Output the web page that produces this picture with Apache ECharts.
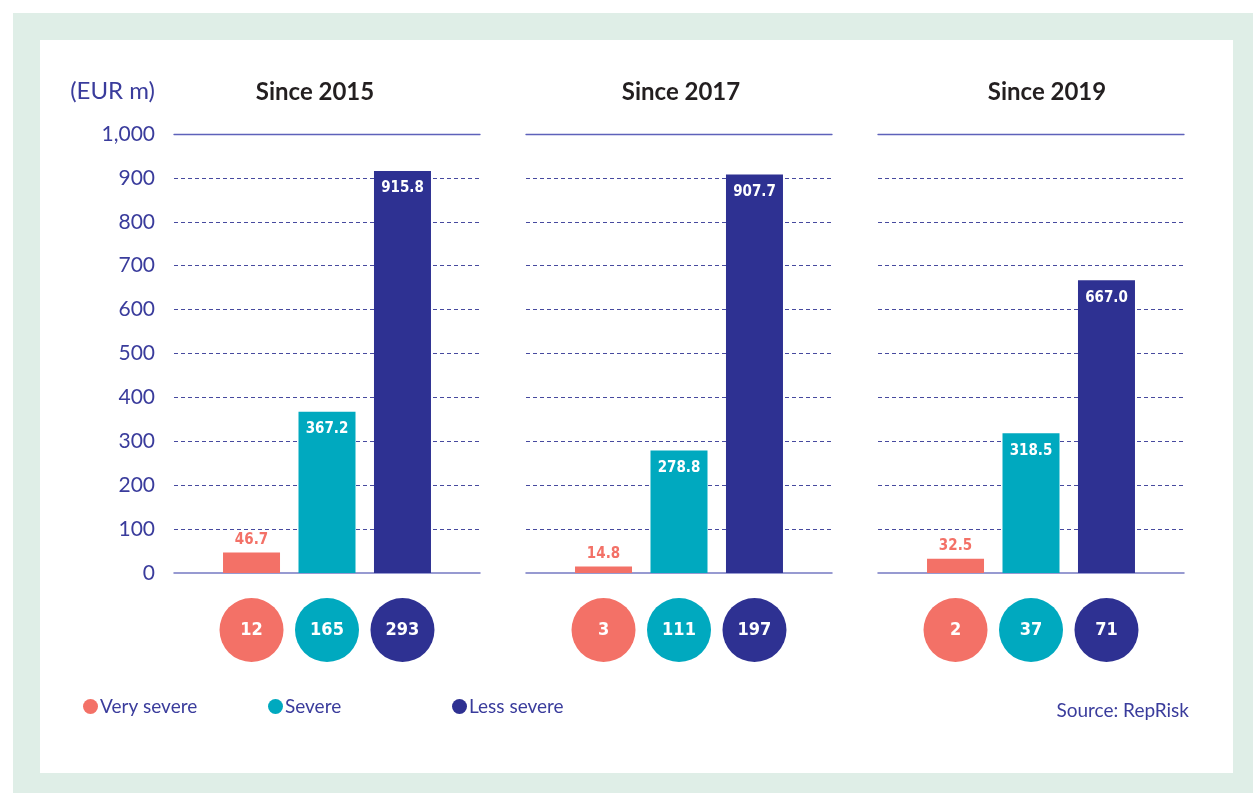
<!DOCTYPE html>
<html>
<head>
<meta charset="utf-8">
<script src="https://cdn.jsdelivr.net/npm/echarts@6/dist/echarts.min.js"></script>
<style>
  body { margin: 0; background: #ffffff; }
  #frame { position: absolute; left: 13px; top: 13px; width: 1240px; height: 780px; background: #dfeee7; }
  #panel { position: absolute; left: 40px; top: 40px; width: 1193px; height: 733px; background: #ffffff; }
  #chart { position: absolute; left: 0; top: 0; width: 1253px; height: 793px; }
</style>
</head>
<body>
<div id="frame"></div>
<div id="panel"></div>
<div id="chart"></div>
<script>
var periods = ["Since 2015", "Since 2017", "Since 2019"];
var severities = ["Very severe", "Severe", "Less severe"];
var colors = ["#f37167", "#00a9bf", "#2e3192"];
// EUR m per severity, one array per period
var amounts = [
  [46.7, 367.2, 915.8],
  [14.8, 278.8, 907.7],
  [32.5, 318.5, 667.0],
];
// number of incidents shown in the circles
var counts = [
  [12, 165, 293],
  [3, 111, 197],
  [2, 37, 71],
];
var yTicks = [0, 100, 200, 300, 400, 500, 600, 700, 800, 900, 1000];

var purple = "#3a3c9c";
var condensed = "'DejaVu Sans Condensed', 'Roboto Condensed', 'Liberation Sans Narrow', Roboto, sans-serif";
var gridLefts = [174, 526, 878];
var gridWidth = 306;
var titleCenters = [315, 681, 1047];

var chart = echarts.init(document.getElementById("chart"), null, { renderer: "canvas" });

var grids = [];
var xAxes = [];
var yAxes = [];
var series = [];
var titles = [];

periods.forEach(function (period, p) {
  // bar grid
  grids.push({ left: gridLefts[p], width: gridWidth, top: 134, height: 439 });
  // circle grid
  grids.push({ left: gridLefts[p], width: gridWidth, top: 598, height: 64 });

  var barGrid = p * 2;
  var dotGrid = p * 2 + 1;

  // bottom x axis of bar grid
  xAxes.push({
    type: "value", gridIndex: barGrid, min: -1.027, max: 3.027,
    axisLine: { show: true, onZero: false, lineStyle: { color: "#7579c2", width: 1.5 } },
    axisTick: { show: false }, axisLabel: { show: false }, splitLine: { show: false },
  });
  // top line at 1000
  xAxes.push({
    type: "value", gridIndex: barGrid, position: "top", min: -1.027, max: 3.027,
    axisLine: { show: true, onZero: false, lineStyle: { color: "#5e62ba", width: 1.3 } },
    axisTick: { show: false }, axisLabel: { show: false }, splitLine: { show: false },
  });
  // circle grid x axis
  xAxes.push({
    type: "value", gridIndex: dotGrid, min: -1.027, max: 3.027, show: false,
  });

  yAxes.push({
    type: "value", gridIndex: barGrid, min: yTicks[0], max: yTicks[yTicks.length - 1], interval: 100,
    axisLine: { show: false }, axisTick: { show: false },
    axisLabel: {
      show: p === 0, margin: 19, color: purple, fontFamily: "Lato", fontWeight: "normal", fontSize: 21,
      padding: [0, 0, 8, 0],
      formatter: function (v) { return v >= 1000 ? "1,000" : String(v); },
    },
    splitLine: {
      show: true, showMinLine: false, showMaxLine: false,
      lineStyle: { color: "#474a9f", type: [4, 3], width: 1 },
    },
  });
  yAxes.push({
    type: "value", gridIndex: dotGrid, min: -1, max: 1, show: false,
  });

  var xBar = p * 3;
  var xDot = p * 3 + 2;

  severities.forEach(function (sev, s) {
    var inside = s > 0;
    series.push({
      name: sev,
      type: "bar",
      xAxisIndex: xBar,
      yAxisIndex: p * 2,
      barWidth: 57,
      barGap: "-100%",
      itemStyle: { color: colors[s] },
      label: {
        show: true,
        position: inside ? "insideTop" : "top",
        distance: inside ? 10 : 5,
        color: inside ? "#ffffff" : colors[s],
        fontFamily: condensed,
        fontWeight: "bold",
        fontSize: 15,
        formatter: function (d) { return d.value[1].toFixed(1); },
      },
      data: [[s, amounts[p][s]]],
    });
  });

  series.push({
    type: "scatter",
    xAxisIndex: xDot,
    yAxisIndex: p * 2 + 1,
    symbol: "circle",
    symbolSize: 64,
    silent: true,
    label: {
      show: true, position: "inside", color: "#ffffff",
      fontFamily: condensed, fontWeight: "bold", fontSize: 18,
      formatter: function (d) { return String(d.value[2]); },
    },
    data: counts[p].map(function (c, s) {
      return { value: [s, 0, c], itemStyle: { color: colors[s], opacity: 1 } };
    }),
  });

  titles.push({
    text: period, left: titleCenters[p], top: 80, textAlign: "center", padding: 0,
    textStyle: { fontFamily: "Lato", fontWeight: "bold", fontSize: 24, color: "#231f20" },
  });
});

titles.push({
  text: "(EUR m)", left: 155, top: 79, textAlign: "right", padding: 0,
  textStyle: { fontFamily: "Lato", fontWeight: "normal", fontSize: 24, color: purple },
});
titles.push({
  text: "Source: RepRisk", left: 1189, top: 701, textAlign: "right", padding: 0,
  textStyle: { fontFamily: "Lato", fontWeight: "normal", fontSize: 19, color: purple },
});

var legendLefts = [83, 268, 452];
var legends = severities.map(function (sev, s) {
  return {
    data: [sev], left: legendLefts[s], top: 697, padding: 0,
    icon: "circle", itemWidth: 15, itemHeight: 15, itemGap: 0,
    textStyle: { fontFamily: "Lato", fontSize: 19, color: purple, padding: [0, 0, 0, -3] },
  };
});

chart.setOption({
  animation: false,
  title: titles,
  legend: legends,
  grid: grids,
  xAxis: xAxes,
  yAxis: yAxes,
  series: series,
});
</script>
</body>
</html>
